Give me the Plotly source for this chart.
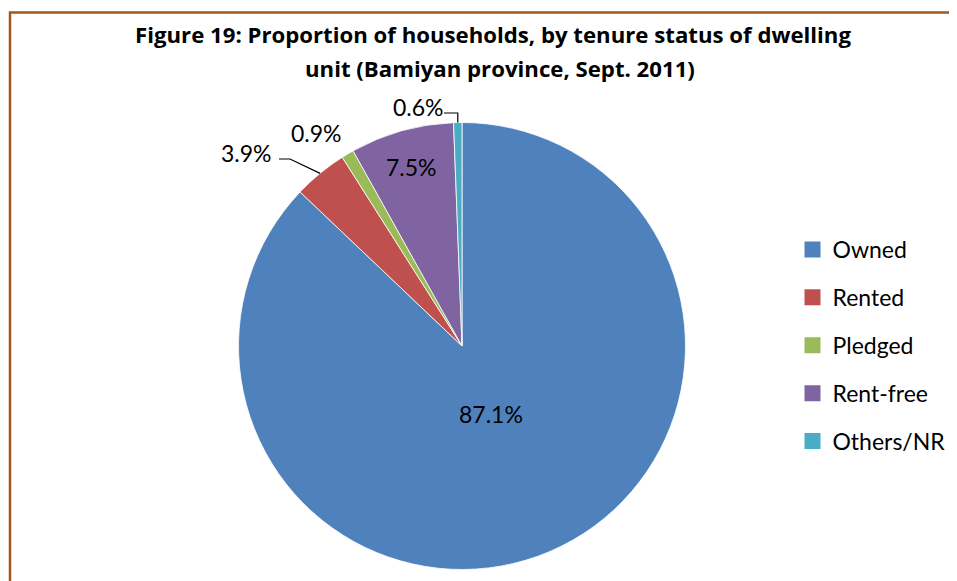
import math
import plotly.graph_objects as go

# ---- data ----
categories = ["Owned", "Rented", "Pledged", "Rent-free", "Others/NR"]
values = [87.1, 3.9, 0.9, 7.5, 0.6]
colors = ["#4F81BD", "#C0504D", "#9BBB59", "#8064A2", "#4BACC6"]
title_line1 = "Figure 19: Proportion of households, by tenure status of dwelling"
title_line2 = "unit (Bamiyan province, Sept. 2011)"

W, H = 957, 581
OFF = 8  # page body margin
FONT = "Lato"

def px(x):
    return (x - OFF) / W

def py(y):
    return 1 - (y - OFF) / H

# pie geometry (window pixels)
CX, CY, R = 462, 346, 223.5

total = sum(values)
labels_txt = [f"{v / total * 100:.1f}%" for v in values]

# mid angles (clockwise from 12 o'clock)
mids = []
cum = 0
for v in values:
    mids.append((cum + v / 2) / total * 2 * math.pi)
    cum += v

def edge(i, f=1.0):
    a = mids[i]
    return CX + f * R * math.sin(a), CY - f * R * math.cos(a)

fig = go.Figure()
fig.add_trace(go.Pie(
    labels=categories,
    values=values,
    sort=False,
    direction="clockwise",
    rotation=0,
    marker=dict(colors=colors, line=dict(color="white", width=0.8)),
    textinfo="none",
    domain=dict(x=[px(CX - R), px(CX + R)], y=[py(CY + R), py(CY - R)]),
    showlegend=False,
    hoverinfo="label+percent",
))

# legend via marker-only entries, one group each for spacing
for name, col in zip(categories, colors):
    fig.add_trace(go.Scatter(
        x=[None], y=[None], mode="markers", name=name,
        marker=dict(symbol="square", size=16, color=col),
        legendgroup=name, showlegend=True,
    ))

annotations = []
shapes = []

# title
tfont = dict(family="Open Sans", size=22.2, color="black")
annotations.append(dict(text=f"<b>{title_line1}</b>", x=px(493), y=py(35), xref="paper", yref="paper",
                        xanchor="center", yanchor="middle", showarrow=False, font=tfont))
annotations.append(dict(text=f"<b>{title_line2}</b>", x=px(500), y=py(68.5), xref="paper", yref="paper",
                        xanchor="center", yanchor="middle", showarrow=False, font=tfont))

lab_font = dict(family=FONT, size=23, color="black")

# inside labels (placed along slice mid-angles)
for i, f in ((0, 0.33), (3, 0.83)):
    x, y = edge(i, f)
    annotations.append(dict(text=labels_txt[i], x=px(x), y=py(y), xref="paper", yref="paper",
                            xanchor="center", yanchor="middle", showarrow=False, font=lab_font))

# outside labels
# Rented
ex, ey = edge(1)
annotations.append(dict(text=labels_txt[1], x=px(274), y=py(153), xref="paper", yref="paper",
                        xanchor="right", yanchor="middle", showarrow=False, font=lab_font))
shapes.append(dict(type="path", xref="paper", yref="paper",
                   path=f"M {px(ex)} {py(ey)} L {px(290)} {py(159)} L {px(279)} {py(159)}",
                   line=dict(color="black", width=1.2)))
# Pledged
annotations.append(dict(text=labels_txt[2], x=px(316), y=py(133), xref="paper", yref="paper",
                        xanchor="center", yanchor="middle", showarrow=False, font=lab_font))
# Others/NR
ex, ey = edge(4)
annotations.append(dict(text=labels_txt[4], x=px(418), y=py(107), xref="paper", yref="paper",
                        xanchor="center", yanchor="middle", showarrow=False, font=lab_font))
shapes.append(dict(type="path", xref="paper", yref="paper",
                   path=f"M {px(444)} {py(113)} L {px(ex)} {py(113)} L {px(ex)} {py(ey)}",
                   line=dict(color="black", width=1.2)))

# border (open at right/bottom as in the source crop)
shapes.append(dict(type="rect", xref="paper", yref="paper",
                   x0=px(10), x1=px(1100), y0=py(700), y1=py(12.5),
                   line=dict(color="#9E5A1F", width=2.5), fillcolor="rgba(0,0,0,0)"))

fig.update_layout(
    width=W, height=H,
    margin=dict(l=0, r=0, t=0, b=0),
    paper_bgcolor="white", plot_bgcolor="white",
    xaxis=dict(visible=False), yaxis=dict(visible=False),
    annotations=annotations, shapes=shapes,
    legend=dict(x=px(792.5), y=py(228), xanchor="left", yanchor="top",
                font=dict(family=FONT, size=23, color="black"),
                tracegroupgap=15, itemwidth=30, bgcolor="rgba(0,0,0,0)"),
    showlegend=True,
)

fig.write_html("out.html")
